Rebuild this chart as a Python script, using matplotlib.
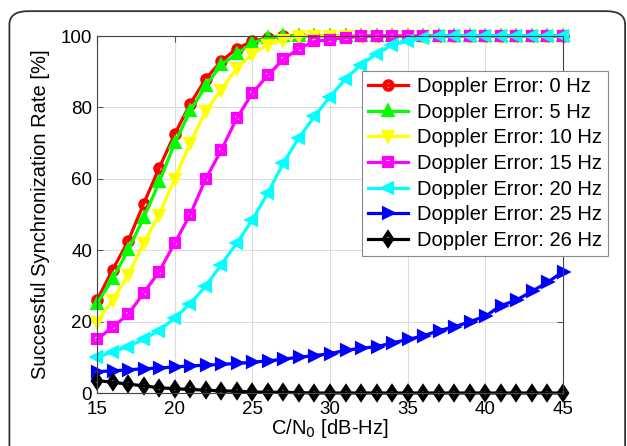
import matplotlib
matplotlib.use("Agg")
import matplotlib.pyplot as plt
from matplotlib.patches import FancyBboxPatch

plt.rcParams["font.family"] = ["Liberation Sans", "DejaVu Sans"]

cn0 = list(range(15, 46))

# one value per dB-Hz
err_0 = [26, 34.5, 42.5, 53, 63, 72.5, 81, 88, 93, 96.5, 98.5, 99.5] + [100] * 19
err_5 = [25, 32, 40, 49, 59, 70, 79, 86, 92, 95, 98, 99.5] + [100] * 19
err_10 = [20, 26, 33, 42, 50, 60, 70, 79, 85, 91, 95, 97.5, 99] + [100] * 18
err_15 = [15, 18.5, 22, 28, 34, 42, 50, 60, 68, 77, 84, 89, 93.5, 96.5, 98.5,
          99, 99.5] + [100] * 14
err_20 = [10, 11.5, 13, 15, 17.5, 21, 25, 30, 36, 42, 48.5, 56, 64.5, 71.5,
          77.5, 83, 88, 92, 95, 97.5, 98.5, 99.5] + [100] * 9
err_25 = [6, 6.2, 6.5, 6.8, 7, 7.3, 7.6, 7.8, 8, 8.3, 8.6, 9, 9.5, 10, 10.5,
          11, 12, 12.5, 13, 14, 15, 16, 17.5, 18.5, 20, 21.5, 24.5, 26, 28.5,
          31, 34]
err_26 = [3.5, 3, 2.5, 2, 1.5, 1.2, 1, 0.8, 0.6, 0.5, 0.3, 0.2, 0.2, 0.1] + [0] * 17

series = [
    (err_0, "Doppler Error: 0 Hz", (1, 0, 0), "o"),
    (err_5, "Doppler Error: 5 Hz", (0, 1, 0), "^"),
    (err_10, "Doppler Error: 10 Hz", (1, 1, 0), "v"),
    (err_15, "Doppler Error: 15 Hz", (1, 0, 1), "s"),
    (err_20, "Doppler Error: 20 Hz", (0, 1, 1), "<"),
    (err_25, "Doppler Error: 25 Hz", (0, 0, 1), ">"),
    (err_26, "Doppler Error: 26 Hz", (0, 0, 0), "d"),
]

fig = plt.figure(figsize=(6.27, 4.46), dpi=100)

# rounded panel border
border = FancyBboxPatch((0.015, -0.1), 0.982, 1.075, transform=fig.transFigure,
                        boxstyle="round,pad=0,rounding_size=0.03",
                        facecolor="none", edgecolor="#333333", linewidth=1.3,
                        zorder=-1)
fig.patches.append(border)

ax = fig.add_axes([0.1547, 0.1188, 0.7432, 0.8004])
ax.patch.set_alpha(0)

for vals, label, color, mk in series:
    ax.plot(cn0, vals, color=color, marker=mk, markersize=6,
            markerfacecolor="none", markeredgewidth=3, linewidth=2.3,
            label=label, clip_on=False)

ax.set_xlim(15, 45)
ax.set_ylim(0, 100)
ax.set_xticks(range(15, 46, 5))
ax.set_yticks(range(0, 101, 20))
ax.grid(True, color="#dddddd", linewidth=0.8)
ax.set_axisbelow(True)
ax.tick_params(direction="in", top=True, right=True, labelsize=13.5,
               length=4, color="#555555")
ax.tick_params(axis="y", pad=3.5)
ax.tick_params(axis="x", pad=6)
for sp in ax.spines.values():
    sp.set_color("#444444")
    sp.set_linewidth(0.8)

ax.set_xlabel("C/N$_0$ [dB-Hz]", fontsize=14.5, labelpad=-1)
ax.set_ylabel("Successful Synchronization Rate [%]", fontsize=14.5, labelpad=8)

leg = ax.legend(loc="upper right", bbox_to_anchor=(1.097, 0.902),
                borderaxespad=0, fontsize=14.5, handlelength=2.0,
                handletextpad=0.45, labelspacing=0.33, borderpad=0.3,
                fancybox=False, framealpha=1)
leg.get_frame().set_edgecolor("#888888")
leg.get_frame().set_linewidth(0.8)

fig.savefig("out.png", dpi=100)
